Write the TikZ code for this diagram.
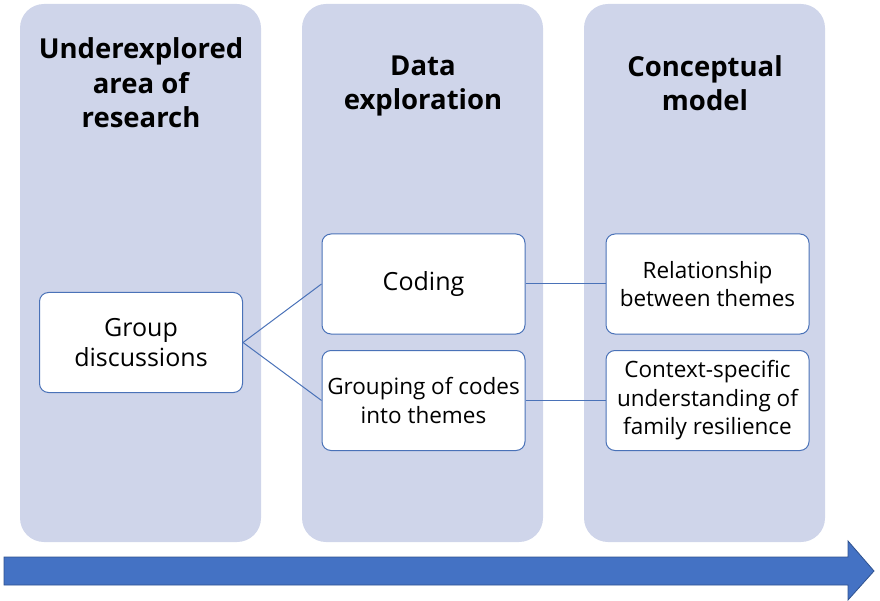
\documentclass[tikz,border=0pt]{standalone}
\usepackage{fontspec}
\setmainfont{Open Sans}
\definecolor{colfill}{HTML}{CFD5EA}
\definecolor{boxline}{HTML}{4A72B8}
\definecolor{arrowblue}{HTML}{4472C4}
\definecolor{arrowedge}{HTML}{2F528F}

\begin{document}
\begin{tikzpicture}[x=1pt, y=-1pt,
  column/.style={fill=colfill, draw=none, rounded corners=24pt,
    minimum width=241pt, minimum height=538pt, inner sep=0pt},
  coltitle/.style={font=\fontsize{27.5}{34.5}\selectfont\bfseries, align=center},
  itembox/.style={draw=boxline, fill=white, line width=1pt, rounded corners=9pt,
    minimum width=203pt, minimum height=100pt, inner sep=2pt, align=center,
    font=\fontsize{22.5}{28.5}\selectfont},
  bigtext/.style={font=\fontsize{25}{30}\selectfont},
  link/.style={draw=boxline, line width=1pt}]
  % Fix the page to the size of the reference
  \useasboundingbox (0,0) rectangle (880,601);
  % Three background columns
  \node[column] (colA) at (140.5,273) {};
  \node[column] (colB) at (422.5,273) {};
  \node[column] (colC) at (704.5,273) {};
  % Column headings
  \node[coltitle] (titleA) at (141,83) {Underexplored\\area of\\research};
  \node[coltitle] (titleB) at (423,86) {Data\\exploration};
  \node[coltitle] (titleC) at (705,83) {Conceptual\\model};
  % Boxes inside the columns
  \node[itembox, bigtext] (group) at (141,342.5) {Group\\discussions};
  \node[itembox, bigtext] (coding) at (423.5,284) {Coding};
  \node[itembox] (grouping) at (423.5,400.5) {Grouping of codes\\into themes};
  \node[itembox] (relation) at (707.5,284) {Relationship\\between themes};
  \node[itembox] (context) at (707.5,400.5)
    {Context-specific\\understanding of\\family resilience};
  % Connectors between the boxes
  \draw[link] (group.east) -- (coding.west);
  \draw[link] (group.east) -- (grouping.west);
  \draw[link] (coding.east) -- (relation.west);
  \draw[link] (grouping.east) -- (context.west);
  % Time arrow along the bottom
  \draw[fill=arrowblue, draw=arrowedge, line width=0.8pt, line join=miter]
    (4,557) -- (848,557) -- (848,541) -- (874,571) -- (848,600)
    -- (848,585) -- (4,585) -- cycle;
\end{tikzpicture}
\end{document}
